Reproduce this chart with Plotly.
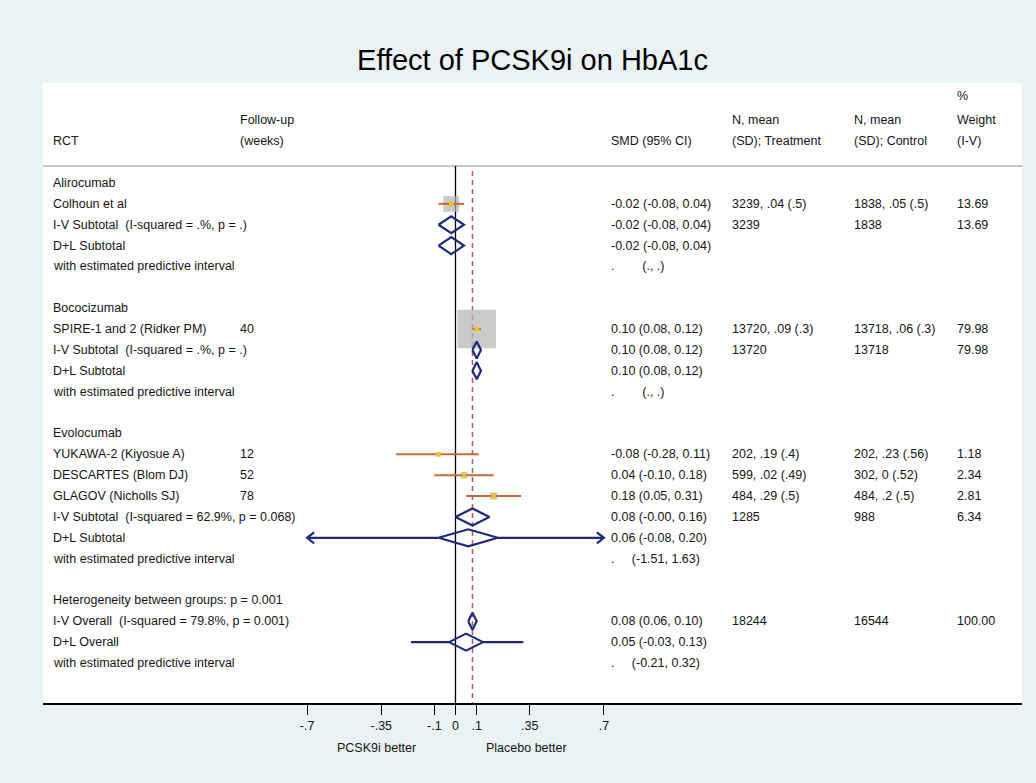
import plotly.graph_objects as go

# ---------------- data ----------------
title_text = "Effect of PCSK9i on HbA1c"

header_pct = "%"
header_line1 = ["", "Follow-up", "", "N, mean", "N, mean", "Weight"]
header_line2 = ["RCT", "(weeks)", "SMD (95% CI)", "(SD); Treatment", "(SD); Control", "(I-V)"]

NB = "\u00a0"
row_labels = [
    "Alirocumab", "Colhoun et al",
    "I-V Subtotal" + NB + NB + "(I-squared = .%, p = .)", "D+L Subtotal",
    "with estimated predictive interval", "",
    "Bococizumab", "SPIRE-1 and 2 (Ridker PM)",
    "I-V Subtotal" + NB + NB + "(I-squared = .%, p = .)", "D+L Subtotal",
    "with estimated predictive interval", "",
    "Evolocumab", "YUKAWA-2 (Kiyosue A)", "DESCARTES (Blom DJ)", "GLAGOV (Nicholls SJ)",
    "I-V Subtotal" + NB + NB + "(I-squared = 62.9%, p = 0.068)", "D+L Subtotal",
    "with estimated predictive interval", "",
    "Heterogeneity between groups: p = 0.001",
    "I-V Overall" + NB + NB + "(I-squared = 79.8%, p = 0.001)", "D+L Overall",
    "with estimated predictive interval",
]
row_followup = ["", "", "", "", "", "",
                "", "40", "", "", "", "",
                "", "12", "52", "78", "", "", "", "",
                "", "", "", ""]
row_smd = [
    "", "-0.02 (-0.08, 0.04)", "-0.02 (-0.08, 0.04)", "-0.02 (-0.08, 0.04)",
    "." + NB * 8 + "(., .)", "",
    "", "0.10 (0.08, 0.12)", "0.10 (0.08, 0.12)", "0.10 (0.08, 0.12)",
    "." + NB * 8 + "(., .)", "",
    "", "-0.08 (-0.28, 0.11)", "0.04 (-0.10, 0.18)", "0.18 (0.05, 0.31)",
    "0.08 (-0.00, 0.16)", "0.06 (-0.08, 0.20)", "." + NB * 5 + "(-1.51, 1.63)", "",
    "", "0.08 (0.06, 0.10)", "0.05 (-0.03, 0.13)", "." + NB * 5 + "(-0.21, 0.32)",
]
row_ntrt = ["", "3239, .04 (.5)", "3239", "", "", "",
            "", "13720, .09 (.3)", "13720", "", "", "",
            "", "202, .19 (.4)", "599, .02 (.49)", "484, .29 (.5)", "1285", "", "", "",
            "", "18244", "", ""]
row_nctl = ["", "1838, .05 (.5)", "1838", "", "", "",
            "", "13718, .06 (.3)", "13718", "", "", "",
            "", "202, .23 (.56)", "302, 0 (.52)", "484, .2 (.5)", "988", "", "", "",
            "", "16544", "", ""]
row_weight = ["", "13.69", "13.69", "", "", "",
              "", "79.98", "79.98", "", "", "",
              "", "1.18", "2.34", "2.81", "6.34", "", "", "",
              "", "100.00", "", ""]

# individual studies
study_rows = [1, 7, 13, 14, 15]
study_es = [-0.02, 0.10, -0.08, 0.04, 0.18]
study_lci = [-0.08, 0.08, -0.28, -0.10, 0.05]
study_uci = [0.04, 0.12, 0.11, 0.18, 0.31]
study_weight = [13.69, 79.98, 1.18, 2.34, 2.81]

# pooled estimates (diamonds)
pooled_rows = [2, 3, 8, 9, 16, 17, 21, 22]
pooled_es = [-0.02, -0.02, 0.10, 0.10, 0.08, 0.06, 0.08, 0.05]
pooled_lci = [-0.08, -0.08, 0.08, 0.08, -0.00, -0.08, 0.06, -0.03]
pooled_uci = [0.04, 0.04, 0.12, 0.12, 0.16, 0.20, 0.10, 0.13]

# predictive intervals (drawn on D+L rows)
pi_rows = [17, 22]
pi_es_lci = [-0.08, -0.03]
pi_es_uci = [0.20, 0.13]
pi_lci = [-1.51, -0.21]
pi_uci = [1.63, 0.32]

overall_es = 0.08
xtick_vals = [-0.7, -0.35, -0.1, 0, 0.1, 0.35, 0.7]
xtick_text = ["-.7", "-.35", "-.1", "0", ".1", ".35", ".7"]
favours_left = "PCSK9i better"
favours_right = "Placebo better"

# ---------------- layout constants ----------------
W, H = 1036, 783
ML, MR, MT, MB = 43, 14, 83, 80
PX0 = 455.5          # pixel of x = 0
PXU = 212.0          # pixels per unit
ROW0 = 183.0         # pixel of row 0
ROWH = 20.87         # pixels per row
FS = 12.5
PLOT_H = H - MT - MB

def px2x(px):
    return (px - PX0) / PXU

def py2row(py):
    return (py - ROW0) / ROWH

def pxpaper(px):
    return (px - ML) / (W - ML - MR)

x_lo, x_hi = px2x(ML), px2x(W - MR)
r_top, r_bot = py2row(MT), py2row(H - MB)
clip_lo, clip_hi = min(xtick_vals), max(xtick_vals)

FONT = "Liberation Sans, Arial, Helvetica, sans-serif"
NAVY = "#1d2a7c"
CI_COL = "#c26a3a"
BOX_COL = "#b3b3b3"
DOT_COL = "#f2c318"
TXT = "#151515"

fig = go.Figure()

# weight boxes
fig.add_trace(go.Scatter(
    x=study_es, y=study_rows, mode="markers",
    marker=dict(symbol="square", size=[4.3 * w ** 0.5 for w in study_weight],
                color=BOX_COL, line=dict(width=0)),
    hoverinfo="skip", showlegend=False))

# CI lines
cx, cy = [], []
for r, lo, hi in zip(study_rows, study_lci, study_uci):
    cx += [lo, hi, None]
    cy += [r, r, None]
fig.add_trace(go.Scatter(x=cx, y=cy, mode="lines",
                         line=dict(color=CI_COL, width=2),
                         hoverinfo="skip", showlegend=False))

# point estimate dots
fig.add_trace(go.Scatter(
    x=study_es, y=study_rows, mode="markers",
    marker=dict(symbol="square", size=4.5, color=DOT_COL, line=dict(width=0)),
    hoverinfo="skip", showlegend=False))

# diamonds
DH = 8.5 / ROWH
dx, dy = [], []
for r, e, lo, hi in zip(pooled_rows, pooled_es, pooled_lci, pooled_uci):
    dx += [lo, e, hi, e, lo, None]
    dy += [r, r - DH, r, r + DH, r, None]
fig.add_trace(go.Scatter(x=dx, y=dy, mode="lines",
                         line=dict(color=NAVY, width=2.2),
                         hoverinfo="skip", showlegend=False))

# predictive intervals
AX = 7 / PXU
AY = 5.5 / ROWH
px_, py_ = [], []
for r, elo, ehi, lo, hi in zip(pi_rows, pi_es_lci, pi_es_uci, pi_lci, pi_uci):
    lo_c = max(lo, clip_lo)
    hi_c = min(hi, clip_hi)
    px_ += [lo_c, elo, None, ehi, hi_c, None]
    py_ += [r, r, None, r, r, None]
    if lo < clip_lo:
        px_ += [lo_c + AX, lo_c, lo_c + AX, None]
        py_ += [r - AY, r, r + AY, None]
    if hi > clip_hi:
        px_ += [hi_c - AX, hi_c, hi_c - AX, None]
        py_ += [r - AY, r, r + AY, None]
fig.add_trace(go.Scatter(x=px_, y=py_, mode="lines",
                         line=dict(color=NAVY, width=2.2),
                         hoverinfo="skip", showlegend=False))

# tick marks under the axis line (drawn unclipped)
fig.add_trace(go.Scatter(
    x=xtick_vals, y=[r_bot + 5 / ROWH] * len(xtick_vals), mode="markers",
    marker=dict(symbol="line-ns", size=10, color="black",
                line=dict(color="black", width=1.4)),
    cliponaxis=False, hoverinfo="skip", showlegend=False))

shapes = []
sep_row = py2row(166)
# header separator
shapes.append(dict(type="line", xref="paper", yref="y", x0=0, x1=1,
                   y0=sep_row, y1=sep_row, line=dict(color="#c9c9c9", width=2),
                   layer="below"))
# zero line
shapes.append(dict(type="line", xref="x", yref="y", x0=0, x1=0,
                   y0=sep_row, y1=r_bot, line=dict(color="black", width=1.3),
                   layer="below"))
# overall effect line
shapes.append(dict(type="line", xref="x", yref="y", x0=overall_es, x1=overall_es,
                   y0=py2row(171), y1=r_bot,
                   line=dict(color="#b5556a", width=1.5, dash="5px,4px"),
                   layer="below"))

ann = []
def txt(xpx, row, s, size=FS):
    if s == "":
        return
    ann.append(dict(x=pxpaper(xpx), xref="paper", y=row, yref="y", text=s,
                    showarrow=False, xanchor="left", yanchor="middle",
                    font=dict(family=FONT, size=size, color=TXT)))

col_px = [51, 238, 609, 730, 852, 955]
txt(col_px[5], py2row(96), header_pct)
for cpx, s in zip(col_px, header_line1):
    txt(cpx, py2row(120), s)
for cpx, s in zip(col_px, header_line2):
    txt(cpx, py2row(141), s)

for i in range(len(row_labels)):
    txt(col_px[0], i, row_labels[i])
    txt(col_px[1], i, row_followup[i])
    txt(col_px[2], i, row_smd[i])
    txt(col_px[3], i, row_ntrt[i])
    txt(col_px[4], i, row_nctl[i])
    txt(col_px[5], i, row_weight[i])

fav_y = -(748 - (H - MB)) / PLOT_H
ann.append(dict(x=px2x(376), xref="x", y=fav_y, yref="paper", text=favours_left,
                showarrow=False, xanchor="center", yanchor="middle",
                font=dict(family=FONT, size=FS, color=TXT)))
ann.append(dict(x=px2x(526), xref="x", y=fav_y, yref="paper", text=favours_right,
                showarrow=False, xanchor="center", yanchor="middle",
                font=dict(family=FONT, size=FS, color=TXT)))

fig.update_layout(
    width=W, height=H,
    margin=dict(l=ML, r=MR, t=MT, b=MB, pad=0),
    paper_bgcolor="#eaf2f4", plot_bgcolor="white",
    title=dict(text=title_text, x=0.5, xref="paper", xanchor="center",
               y=1 - 60 / H, yref="container", yanchor="middle",
               font=dict(family=FONT, size=29, color="black")),
    shapes=shapes, annotations=ann,
    showlegend=False,
    xaxis=dict(range=[x_lo, x_hi], showgrid=False, zeroline=False,
               showline=True, linecolor="black", linewidth=1.5,
               ticks="outside", ticklen=10, tickwidth=1.4, tickcolor="#000000",
               tickvals=xtick_vals, ticktext=xtick_text,
               tickfont=dict(family=FONT, size=FS, color=TXT),
               fixedrange=True),
    yaxis=dict(range=[r_bot, r_top], showgrid=False, zeroline=False,
               showticklabels=False, showline=False, fixedrange=True),
)

fig.write_html("out.html")
